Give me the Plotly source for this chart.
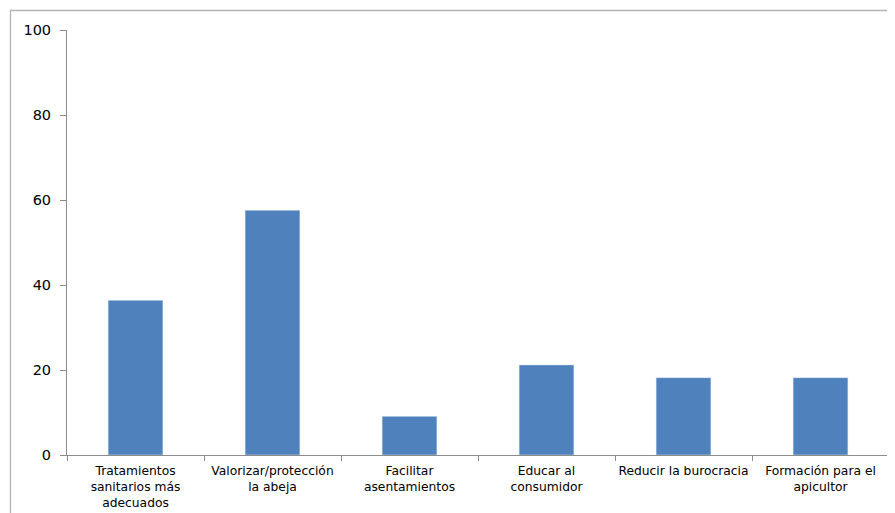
import plotly.graph_objects as go

categories = [
    "Tratamientos<br>sanitarios más<br>adecuados",
    "Valorizar/protección<br>la abeja",
    "Facilitar<br>asentamientos",
    "Educar al<br>consumidor",
    "Reducir la burocracia",
    "Formación para el<br>apicultor",
]
values = [36.4, 57.6, 9.1, 21.2, 18.2, 18.2]

fig = go.Figure()
fig.add_trace(go.Bar(x=categories, y=values, marker_color="#4F81BD", width=0.4))

# page body has 8px default margin
OFF = 8
W, H = 887, 505
L, R, T, B = 67 - OFF, 6, 30 - OFF, 505 - (455 - OFF)
pw = W - L - R
ph = H - T - B

def px_x(px):
    return (px - OFF - L) / pw

def px_y(py):
    return (H - B - (py - OFF)) / ph

fig.add_shape(type="rect", xref="paper", yref="paper",
              x0=px_x(10.5), x1=px_x(893.5), y0=px_y(530), y1=px_y(10.5),
              line=dict(color="#B3B3B3", width=1.3), fillcolor="rgba(0,0,0,0)", layer="below")

fig.update_layout(
    width=W, height=H,
    margin=dict(l=L, r=R, t=T, b=B, autoexpand=False),
    plot_bgcolor="white", paper_bgcolor="white",
    showlegend=False,
    font=dict(family="DejaVu Sans, Verdana, sans-serif", color="#000000"),
    xaxis=dict(
        showline=True, linecolor="#8C8C8C", linewidth=1,
        ticks="outside", tickson="boundaries", ticklen=5, tickcolor="#8C8C8C",
        tickfont=dict(size=12.3), tickangle=0, automargin=False, ticklabelstandoff=4,
        showgrid=False, fixedrange=True,
    ),
    yaxis=dict(
        range=[0, 100], dtick=20, showline=True, linecolor="#8C8C8C", linewidth=1,
        ticks="outside", ticklen=6, tickcolor="#8C8C8C", showgrid=False, zeroline=False,
        tickfont=dict(size=14.5), ticklabelstandoff=6, automargin=False, fixedrange=True,
    ),
)

fig.write_html("out.html")
